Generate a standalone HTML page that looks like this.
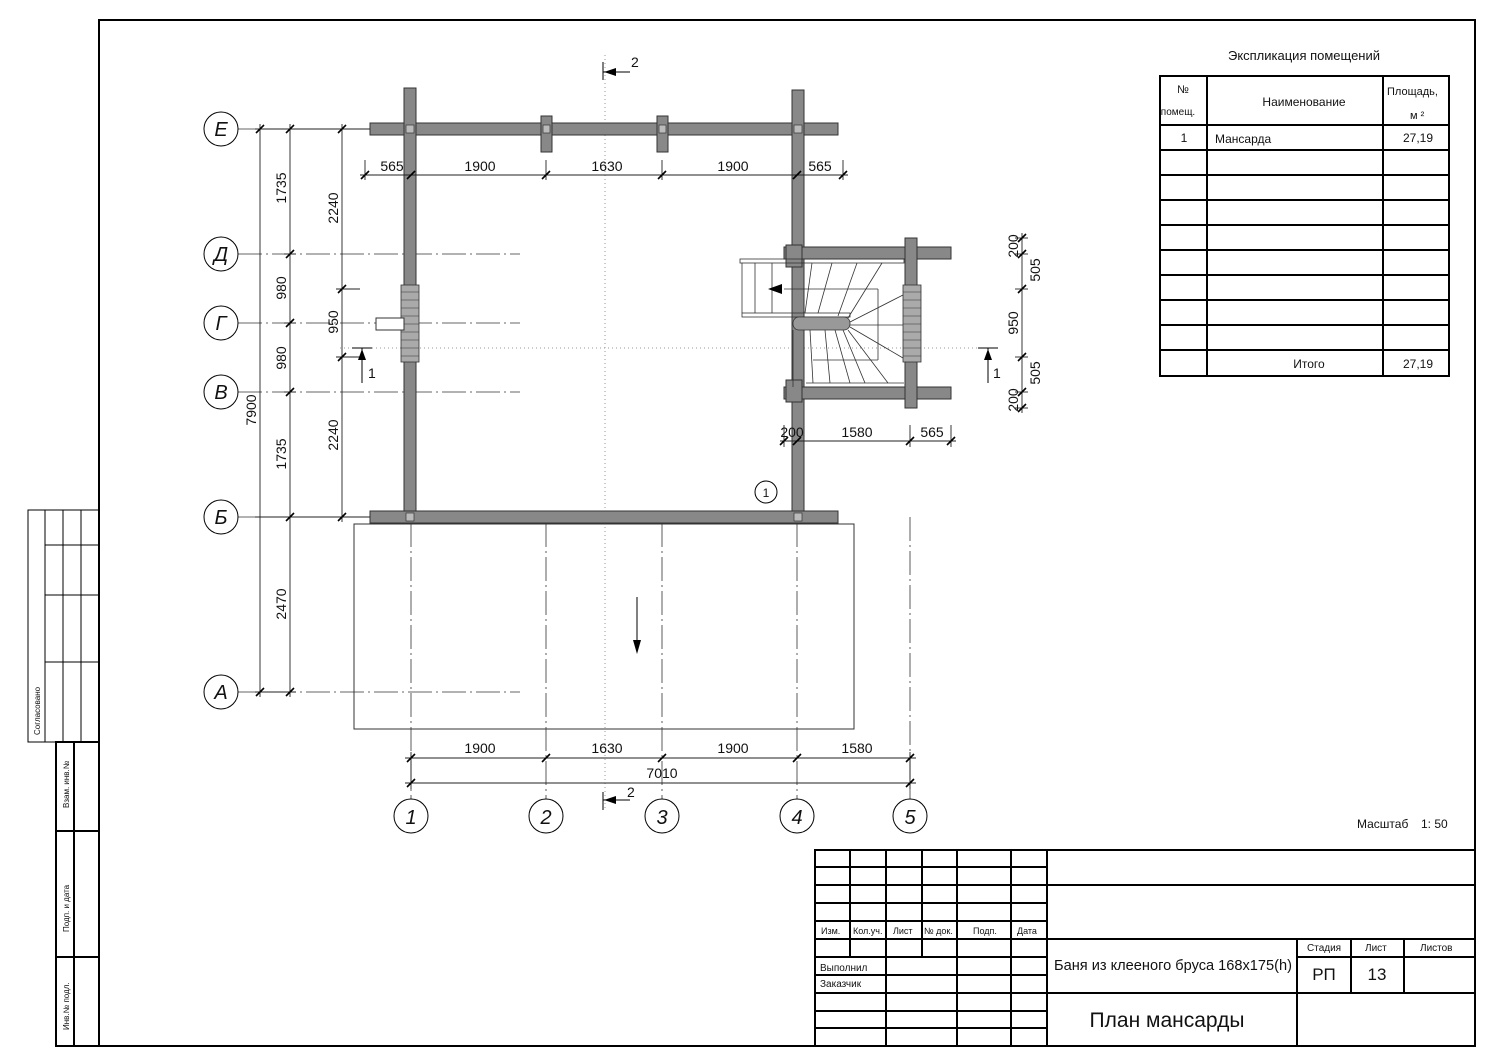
<!DOCTYPE html>
<html><head><meta charset="utf-8"><style>
html,body{margin:0;padding:0;background:#fff}
svg{display:block}
text{font-family:"Liberation Sans","DejaVu Sans",sans-serif;fill:#111}
.t{font-size:14px}
.s{font-size:10px}
</style></head><body>
<svg width="1500" height="1061" viewBox="0 0 1500 1061" xmlns="http://www.w3.org/2000/svg">
<rect x="99" y="20" width="1376" height="1026" fill="none" stroke="#000" stroke-width="2"/>
<g stroke="#000" stroke-width="1" fill="none">
<rect x="28" y="510" width="71" height="232"/>
<line x1="45" y1="510" x2="45" y2="742"/><line x1="63" y1="510" x2="63" y2="742"/><line x1="81" y1="510" x2="81" y2="742"/>
<line x1="45" y1="545" x2="99" y2="545"/><line x1="45" y1="595" x2="99" y2="595"/><line x1="45" y1="662" x2="99" y2="662"/>
</g>
<g stroke="#000" stroke-width="2" fill="none">
<rect x="56" y="742" width="43" height="304"/>
<line x1="74" y1="742" x2="74" y2="1046"/>
<line x1="56" y1="831" x2="99" y2="831"/><line x1="56" y1="957" x2="99" y2="957"/>
</g>
<text transform="translate(40,735) rotate(-90)" style="font-size:8px">Согласовано</text>
<text transform="translate(69,808) rotate(-90)" style="font-size:8px">Взам. инв.№</text>
<text transform="translate(69,932) rotate(-90)" style="font-size:8px">Подп. и дата</text>
<text transform="translate(69,1030) rotate(-90)" style="font-size:8px">Инв.№ подл.</text>

<g stroke="#999" stroke-width="1" stroke-dasharray="1,3">
<line x1="605" y1="55" x2="605" y2="810"/>
<line x1="340" y1="348" x2="990" y2="348"/>
</g>
<g stroke="#333" stroke-width="0.8" stroke-dasharray="24,4,2,4" fill="none">
<line x1="238" y1="129" x2="370" y2="129"/>
<line x1="238" y1="254" x2="520" y2="254"/>
<line x1="238" y1="323" x2="520" y2="323"/>
<line x1="238" y1="392" x2="520" y2="392"/>
<line x1="238" y1="517" x2="370" y2="517"/>
<line x1="238" y1="692" x2="520" y2="692"/>
<line x1="411" y1="523" x2="411" y2="799"/>
<line x1="546" y1="523" x2="546" y2="799"/>
<line x1="662" y1="523" x2="662" y2="799"/>
<line x1="797" y1="523" x2="797" y2="799"/>
<line x1="910" y1="517" x2="910" y2="799"/>
</g>
<rect x="354" y="524" width="500" height="205" fill="none" stroke="#333" stroke-width="1"/>
<line x1="637" y1="597" x2="637" y2="645" stroke="#000"/>
<polygon points="633,640 641,640 637,654" fill="#000"/>

<g fill="#888" stroke="#333" stroke-width="1">
<rect x="370" y="123" width="468" height="12"/>
<rect x="404" y="88" width="12" height="435"/>
<rect x="792" y="90" width="12" height="433"/>
<rect x="370" y="511" width="468" height="12"/>
<rect x="541" y="116" width="11" height="36"/>
<rect x="657" y="116" width="11" height="36"/>
<rect x="784" y="247" width="167" height="12"/>
<rect x="784" y="387" width="167" height="12"/>
<rect x="905" y="238" width="12" height="170"/>
<rect x="786" y="245" width="16" height="22"/>
<rect x="786" y="380" width="16" height="22"/>
</g>
<g fill="#bbb" stroke="#333" stroke-width="0.7">
<rect x="406" y="125" width="8" height="8"/><rect x="794" y="125" width="8" height="8"/>
<rect x="406" y="513" width="8" height="8"/><rect x="794" y="513" width="8" height="8"/>
<rect x="543" y="125" width="7" height="8"/><rect x="659" y="125" width="7" height="8"/>
</g>
<rect x="401" y="285" width="18" height="77" fill="#aaa" stroke="#333" stroke-width="0.8"/>
<g stroke="#333" stroke-width="0.6">
<line x1="401" y1="292" x2="419" y2="292"/><line x1="401" y1="300" x2="419" y2="300"/><line x1="401" y1="308" x2="419" y2="308"/><line x1="401" y1="316" x2="419" y2="316"/><line x1="401" y1="324" x2="419" y2="324"/><line x1="401" y1="332" x2="419" y2="332"/><line x1="401" y1="340" x2="419" y2="340"/><line x1="401" y1="348" x2="419" y2="348"/><line x1="401" y1="356" x2="419" y2="356"/>
</g>
<rect x="376" y="318" width="28" height="12" fill="#fff" stroke="#333"/>
<rect x="903" y="285" width="18" height="77" fill="#aaa" stroke="#333" stroke-width="0.8"/>
<g stroke="#333" stroke-width="0.6">
<line x1="903" y1="292" x2="921" y2="292"/><line x1="903" y1="300" x2="921" y2="300"/><line x1="903" y1="308" x2="921" y2="308"/><line x1="903" y1="316" x2="921" y2="316"/><line x1="903" y1="324" x2="921" y2="324"/><line x1="903" y1="332" x2="921" y2="332"/><line x1="903" y1="340" x2="921" y2="340"/><line x1="903" y1="348" x2="921" y2="348"/><line x1="903" y1="356" x2="921" y2="356"/>
</g>
<g stroke="#333" stroke-width="0.8" fill="none">
<rect x="740" y="259" width="164" height="4"/>
<rect x="742" y="313" width="108" height="4"/>
<rect x="793" y="317" width="57" height="13" rx="6" fill="#999"/>
<line x1="742" y1="263" x2="742" y2="313"/>
<line x1="755" y1="263" x2="755" y2="313"/><line x1="772" y1="263" x2="772" y2="313"/><line x1="812" y1="263" x2="805" y2="313"/><line x1="832" y1="263" x2="818" y2="313"/><line x1="857" y1="263" x2="838" y2="316"/><line x1="882" y1="263" x2="848" y2="318"/><line x1="903" y1="295" x2="850" y2="322"/><line x1="903" y1="325" x2="850" y2="325"/><line x1="903" y1="358" x2="850" y2="327"/><line x1="888" y1="383" x2="848" y2="330"/><line x1="865" y1="383" x2="843" y2="330"/><line x1="850" y1="383" x2="835" y2="330"/><line x1="830" y1="383" x2="825" y2="330"/><line x1="813" y1="383" x2="810" y2="330"/>
<line x1="793" y1="330" x2="793" y2="387"/>
<line x1="806" y1="383" x2="904" y2="383"/>
<line x1="784" y1="289" x2="878" y2="289"/><line x1="878" y1="289" x2="878" y2="360"/><line x1="813" y1="360" x2="878" y2="360"/>
</g>
<polygon points="768,289 782,284 782,294" fill="#000"/>
<circle cx="766" cy="492" r="11" fill="none" stroke="#000"/>
<text x="766" y="497" text-anchor="middle" style="font-size:12px">1</text>

<g stroke="#222" stroke-width="0.9" fill="none">
<line x1="360" y1="175" x2="848" y2="175"/>
<line x1="365" y1="160" x2="365" y2="180"/><line x1="546" y1="160" x2="546" y2="180"/><line x1="662" y1="160" x2="662" y2="180"/><line x1="843" y1="160" x2="843" y2="180"/>
<line x1="260" y1="124" x2="260" y2="697"/>
<line x1="290" y1="124" x2="290" y2="697"/>
<line x1="342" y1="124" x2="342" y2="522"/>
<line x1="255" y1="129" x2="370" y2="129"/>
<line x1="284" y1="254" x2="296" y2="254"/><line x1="284" y1="323" x2="296" y2="323"/><line x1="284" y1="392" x2="296" y2="392"/>
<line x1="255" y1="517" x2="370" y2="517"/><line x1="255" y1="692" x2="296" y2="692"/>
<line x1="336" y1="289" x2="360" y2="289"/><line x1="336" y1="357" x2="360" y2="357"/>
<line x1="405" y1="758" x2="916" y2="758"/>
<line x1="405" y1="783" x2="916" y2="783"/>
<line x1="411" y1="752" x2="411" y2="789"/><line x1="910" y1="752" x2="910" y2="789"/>
<line x1="1022" y1="233" x2="1022" y2="413"/>
<line x1="1015" y1="238" x2="1028" y2="238"/><line x1="1015" y1="254" x2="1028" y2="254"/><line x1="1015" y1="289" x2="1028" y2="289"/><line x1="1015" y1="357" x2="1028" y2="357"/><line x1="1015" y1="392" x2="1028" y2="392"/><line x1="1015" y1="408" x2="1028" y2="408"/>
<line x1="780" y1="441" x2="956" y2="441"/>
<line x1="784" y1="425" x2="784" y2="447"/><line x1="910" y1="425" x2="910" y2="447"/><line x1="951" y1="425" x2="951" y2="447"/>
</g>
<g stroke="#000" stroke-width="1.6">
<path d="M361,179L369,171M407,179L415,171M542,179L550,171M658,179L666,171M793,179L801,171M839,179L847,171"/>
<path d="M256,133L264,125M256,696L264,688M286,133L294,125M286,258L294,250M286,327L294,319M286,396L294,388M286,521L294,513M286,696L294,688M338,133L346,125M338,293L346,285M338,361L346,353M338,521L346,513"/>
<path d="M407,762L415,754M542,762L550,754M658,762L666,754M793,762L801,754M906,762L914,754M407,787L415,779M906,787L914,779"/>
<path d="M1018,242L1026,234M1018,258L1026,250M1018,293L1026,285M1018,361L1026,353M1018,396L1026,388M1018,412L1026,404"/>
<path d="M780,445L788,437M793,445L801,437M906,445L914,437M947,445L955,437"/>
</g>
<g class="t" text-anchor="middle">
<text x="392" y="171">565</text><text x="480" y="171">1900</text><text x="607" y="171">1630</text><text x="733" y="171">1900</text><text x="820" y="171">565</text>
<text x="480" y="753">1900</text><text x="607" y="753">1630</text><text x="733" y="753">1900</text><text x="857" y="753">1580</text>
<text x="662" y="778">7010</text>
<text x="792" y="437">200</text><text x="857" y="437">1580</text><text x="932" y="437">565</text>
<text transform="translate(286,188) rotate(-90)">1735</text>
<text transform="translate(286,288) rotate(-90)">980</text>
<text transform="translate(286,358) rotate(-90)">980</text>
<text transform="translate(286,454) rotate(-90)">1735</text>
<text transform="translate(286,604) rotate(-90)">2470</text>
<text transform="translate(256,410) rotate(-90)">7900</text>
<text transform="translate(338,208) rotate(-90)">2240</text>
<text transform="translate(338,322) rotate(-90)">950</text>
<text transform="translate(338,435) rotate(-90)">2240</text>
<text transform="translate(1018,246) rotate(-90)">200</text>
<text transform="translate(1040,270) rotate(-90)">505</text>
<text transform="translate(1018,323) rotate(-90)">950</text>
<text transform="translate(1040,373) rotate(-90)">505</text>
<text transform="translate(1018,400) rotate(-90)">200</text>
</g>
<g fill="#fff" stroke="#000" stroke-width="1">
<circle cx="221" cy="129" r="17"/><circle cx="221" cy="254" r="17"/><circle cx="221" cy="323" r="17"/><circle cx="221" cy="392" r="17"/><circle cx="221" cy="517" r="17"/><circle cx="221" cy="692" r="17"/>
<circle cx="411" cy="816" r="17"/><circle cx="546" cy="816" r="17"/><circle cx="662" cy="816" r="17"/><circle cx="797" cy="816" r="17"/><circle cx="910" cy="816" r="17"/>
</g>
<g text-anchor="middle">
<text x="221" y="136" style="font-size:20px;font-style:italic">Е</text><text x="221" y="261" style="font-size:20px;font-style:italic">Д</text><text x="221" y="330" style="font-size:20px;font-style:italic">Г</text><text x="221" y="399" style="font-size:20px;font-style:italic">В</text><text x="221" y="524" style="font-size:20px;font-style:italic">Б</text><text x="221" y="699" style="font-size:20px;font-style:italic">А</text>
<text x="411" y="824" style="font-size:20px;font-style:italic">1</text><text x="546" y="824" style="font-size:20px;font-style:italic">2</text><text x="662" y="824" style="font-size:20px;font-style:italic">3</text><text x="797" y="824" style="font-size:20px;font-style:italic">4</text><text x="910" y="824" style="font-size:20px;font-style:italic">5</text>
</g>
<g stroke="#000" stroke-width="1">
<line x1="603" y1="62" x2="603" y2="80"/><line x1="603" y1="72" x2="630" y2="72"/>
<line x1="603" y1="792" x2="603" y2="810"/><line x1="603" y1="800" x2="630" y2="800"/>
<line x1="352" y1="348" x2="372" y2="348"/><line x1="362" y1="348" x2="362" y2="383"/>
<line x1="978" y1="348" x2="998" y2="348"/><line x1="988" y1="348" x2="988" y2="383"/>
</g>
<polygon points="604,72 616,68 616,76" fill="#000"/>
<polygon points="604,800 616,796 616,804" fill="#000"/>
<polygon points="362,349 358,360 366,360" fill="#000"/>
<polygon points="988,349 984,360 992,360" fill="#000"/>
<text x="631" y="67" class="t">2</text><text x="627" y="797" class="t">2</text>
<text x="368" y="378" class="t">1</text><text x="993" y="378" class="t">1</text>

<text x="1304" y="60" text-anchor="middle" style="font-size:13px">Экспликация помещений</text>
<g stroke="#000" stroke-width="2" fill="none">
<rect x="1160" y="76" width="289" height="300"/>
<line x1="1207" y1="76" x2="1207" y2="376"/><line x1="1383" y1="76" x2="1383" y2="376"/>
<line x1="1160" y1="125" x2="1449" y2="125"/><line x1="1160" y1="150" x2="1449" y2="150"/><line x1="1160" y1="175" x2="1449" y2="175"/><line x1="1160" y1="200" x2="1449" y2="200"/><line x1="1160" y1="225" x2="1449" y2="225"/><line x1="1160" y1="250" x2="1449" y2="250"/><line x1="1160" y1="275" x2="1449" y2="275"/><line x1="1160" y1="300" x2="1449" y2="300"/><line x1="1160" y1="325" x2="1449" y2="325"/><line x1="1160" y1="350" x2="1449" y2="350"/>
</g>
<text x="1183" y="93" text-anchor="middle" style="font-size:11px">№</text><text x="1178" y="115" text-anchor="middle" style="font-size:10px">помещ.</text>
<text x="1304" y="106" text-anchor="middle" style="font-size:12px">Наименование</text>
<text x="1387" y="95" style="font-size:11px">Площадь,</text><text x="1410" y="119" style="font-size:11px">м ²</text>
<text x="1184" y="142" text-anchor="middle" style="font-size:12px">1</text><text x="1215" y="143" style="font-size:12px">Мансарда</text><text x="1418" y="142" text-anchor="middle" style="font-size:12px">27,19</text>
<text x="1309" y="368" text-anchor="middle" style="font-size:12px">Итого</text><text x="1418" y="368" text-anchor="middle" style="font-size:12px">27,19</text>
<text x="1357" y="828" style="font-size:12px">Масштаб</text><text x="1421" y="828" style="font-size:12px">1: 50</text>

<g stroke="#000" stroke-width="2" fill="none">
<rect x="815" y="850" width="660" height="196"/>
<line x1="850" y1="850" x2="850" y2="957"/><line x1="886" y1="850" x2="886" y2="1046"/><line x1="922" y1="850" x2="922" y2="957"/><line x1="957" y1="850" x2="957" y2="1046"/><line x1="1011" y1="850" x2="1011" y2="1046"/><line x1="1047" y1="850" x2="1047" y2="1046"/>
<line x1="815" y1="867" x2="1047" y2="867"/><line x1="815" y1="885" x2="1475" y2="885"/><line x1="815" y1="903" x2="1047" y2="903"/><line x1="815" y1="921" x2="1047" y2="921"/><line x1="815" y1="939" x2="1475" y2="939"/>
<line x1="815" y1="957" x2="1047" y2="957"/><line x1="815" y1="975" x2="1047" y2="975"/><line x1="815" y1="993" x2="1475" y2="993"/><line x1="815" y1="1011" x2="1047" y2="1011"/><line x1="815" y1="1028" x2="1047" y2="1028"/>
<line x1="1297" y1="939" x2="1297" y2="1046"/><line x1="1351" y1="939" x2="1351" y2="993"/><line x1="1404" y1="939" x2="1404" y2="993"/><line x1="1297" y1="957" x2="1475" y2="957"/>
</g>
<text x="821" y="934" style="font-size:9px">Изм.</text><text x="853" y="934" style="font-size:9px">Кол.уч.</text><text x="893" y="934" style="font-size:9px">Лист</text><text x="924" y="934" style="font-size:9px">№ док.</text><text x="973" y="934" style="font-size:9px">Подп.</text><text x="1017" y="934" style="font-size:9px">Дата</text>
<text x="820" y="971" style="font-size:10px">Выполнил</text><text x="820" y="987" style="font-size:10px">Заказчик</text>
<text x="1307" y="951" style="font-size:10px">Стадия</text><text x="1365" y="951" style="font-size:10px">Лист</text><text x="1420" y="951" style="font-size:10px">Листов</text>
<text x="1054" y="970" textLength="238" lengthAdjust="spacingAndGlyphs" style="font-size:15px">Баня из клееного бруса 168x175(h)</text>
<text x="1324" y="980" text-anchor="middle" style="font-size:17px">РП</text>
<text x="1377" y="980" text-anchor="middle" style="font-size:17px">13</text>
<text x="1167" y="1027" text-anchor="middle" style="font-size:21px">План мансарды</text>
</svg>
</body></html>
